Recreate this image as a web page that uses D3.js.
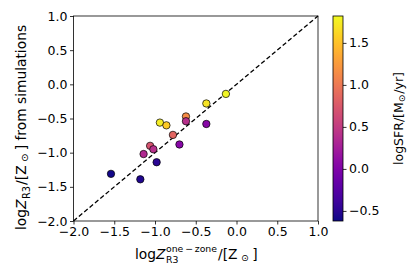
<!DOCTYPE html>
<html>
<head>
<meta charset="utf-8">
<script src="https://cdn.jsdelivr.net/npm/d3@7"></script>
<style>
  body { margin: 0; background: #fff; }
  svg { font-family: "DejaVu Sans", sans-serif; }
</style>
</head>
<body>
<div id="chart"></div>
<script>
// one-zone metallicity (x), simulation metallicity (y), log SFR (colour)
const zOneZone = [-1.54, -1.18, -0.98, -1.14, -1.06, -1.02, -0.70, -0.78, -0.94, -0.86, -0.62, -0.62, -0.37, -0.37, -0.13];
const zSim     = [-1.31, -1.39, -1.14, -1.02, -0.90, -0.95, -0.88, -0.74, -0.56, -0.60, -0.47, -0.54, -0.58, -0.28, -0.14];
const logSFR   = [-0.60, -0.55, -0.50,  0.35,  0.70,  0.40,  0.05,  0.85,  1.75,  1.55,  1.15,  0.40,  0.05,  1.70,  1.80];
const axisTicks = [-2.0, -1.5, -1.0, -0.5, 0.0, 0.5, 1.0];
const cbarTicks = [-0.5, 0.0, 0.5, 1.0, 1.5];
const cbarRange = [-0.62, 1.82];

const FS = 12.5;

// lay out a mathtext-like label piece by piece, centred on (0,0) of the group
function mathLabel(g, pieces, fs, sfs) {
    const inner = g.append("g");
    let cx = 0;
    pieces.forEach(p => {
        if (p.sup !== undefined) {
            const a = inner.append("text").attr("x", cx).attr("y", -fs * 0.47).attr("font-size", sfs).text(p.sup);
            const b = inner.append("text").attr("x", cx).attr("y", fs * 0.33).attr("font-size", sfs).text(p.sub);
            cx += Math.max(a.node().getComputedTextLength(), b.node().getComputedTextLength()) + 1;
        } else {
            const t = inner.append("text").attr("x", cx).attr("y", (p.dy || 0) * fs)
                .attr("font-size", p.small ? sfs : fs).text(p.t);
            if (p.italic) t.attr("font-style", "italic");
            cx += t.node().getComputedTextLength() + (p.gap || 0) * fs;
        }
    });
    inner.attr("transform", `translate(${-cx / 2},0)`);
}

function drawChart() {
    const W = 415, H = 277;
    const margin = {top: 16, left: 73.5, right: 97, bottom: 56};
    const width = W - margin.left - margin.right,
          height = H - margin.top - margin.bottom;

    const svg = d3.select("#chart").append("svg")
        .attr("width", W).attr("height", H);

    const g = svg.append("g").attr("transform", `translate(${margin.left},${margin.top})`);

    const x = d3.scaleLinear().domain([-2, 1]).range([0, width]);
    const y = d3.scaleLinear().domain([-2, 1]).range([height, 0]);
    const color = d3.scaleSequential(d3.interpolatePlasma).domain(cbarRange);

    const fmt = d => d3.format(".1f")(d).replace("-", "\u2212");

    const xAxis = g.append("g").attr("transform", `translate(0,${height})`)
        .call(d3.axisBottom(x).tickValues(axisTicks).tickFormat(fmt).tickSize(3.5).tickPadding(2.5));
    const yAxis = g.append("g")
        .call(d3.axisLeft(y).tickValues(axisTicks).tickFormat(fmt).tickSize(3.5).tickPadding(2.5));
    [xAxis, yAxis].forEach(a => {
        a.select(".domain").remove();
        a.selectAll("text").attr("font-size", FS).attr("fill", "#000").attr("font-family", "DejaVu Sans");
        a.selectAll("line").attr("stroke", "#000").attr("stroke-width", 0.8);
    });

    // 1:1 line
    g.append("line")
        .attr("x1", x(-2)).attr("y1", y(-2)).attr("x2", x(1)).attr("y2", y(1))
        .attr("stroke", "#000").attr("stroke-width", 1.3).attr("stroke-dasharray", "4.5,2.5");

    const pts = zOneZone.map((d, i) => ({x: d, y: zSim[i], c: logSFR[i]}));
    g.selectAll("circle.pt").data(pts).enter().append("circle")
        .attr("class", "pt")
        .attr("cx", d => x(d.x)).attr("cy", d => y(d.y))
        .attr("r", 3.7)
        .attr("fill", d => color(d.c))
        .attr("stroke", "#000").attr("stroke-width", 0.7);

    g.append("rect").attr("width", width).attr("height", height)
        .attr("fill", "none").attr("stroke", "#000").attr("stroke-width", 0.8);

    // x label
    mathLabel(svg.append("g").attr("transform", `translate(${margin.left + width / 2 + 0.5},258.5)`), [
        {t: "log"}, {t: "Z", italic: true, gap: 0.04},
        {sup: "one\u2009\u2212\u2009zone", sub: "R3"},
        {t: "/[Z", gap: 0.25}, {t: "\u2299", small: true, dy: 0.16, gap: 0.25}, {t: "]"}
    ], 13.8, 9.3);

    // y label
    mathLabel(svg.append("g").attr("transform", `translate(26,${margin.top + height / 2 + 9}) rotate(-90)`), [
        {t: "log"}, {t: "Z", italic: true, gap: 0.04},
        {t: "R3", small: true, dy: 0.28, gap: 0.08},
        {t: "/[Z", gap: 0.25}, {t: "\u2299", small: true, dy: 0.16, gap: 0.25}, {t: "] from simulations"}
    ], 13.8, 9.8);

    // colour bar
    const cbX = 333, cbW = 10;
    const cy = d3.scaleLinear().domain(cbarRange).range([margin.top + height, margin.top]);
    const defs = svg.append("defs");
    const grad = defs.append("linearGradient").attr("id", "cbgrad")
        .attr("x1", 0).attr("y1", 1).attr("x2", 0).attr("y2", 0);
    d3.range(0, 1.0001, 0.05).forEach(t => {
        grad.append("stop").attr("offset", t).attr("stop-color", d3.interpolatePlasma(t));
    });
    svg.append("rect").attr("x", cbX).attr("y", margin.top).attr("width", cbW).attr("height", height)
        .attr("fill", "url(#cbgrad)").attr("stroke", "#000").attr("stroke-width", 0.8);
    const cAxis = svg.append("g").attr("transform", `translate(${cbX + cbW},0)`)
        .call(d3.axisRight(cy).tickValues(cbarTicks).tickFormat(fmt).tickSize(3.5).tickPadding(2.5));
    cAxis.select(".domain").remove();
    cAxis.selectAll("text").attr("font-size", FS).attr("fill", "#000").attr("font-family", "DejaVu Sans");
    cAxis.selectAll("line").attr("stroke", "#000").attr("stroke-width", 0.8);

    mathLabel(svg.append("g").attr("transform", `translate(403,${margin.top + height / 2}) rotate(-90)`), [
        {t: "logSFR/[M"}, {t: "\u2299", small: true, dy: 0.16, gap: 0.08}, {t: "/yr]"}
    ], 12.5, 9);
}

drawChart();
</script>
</body>
</html>
